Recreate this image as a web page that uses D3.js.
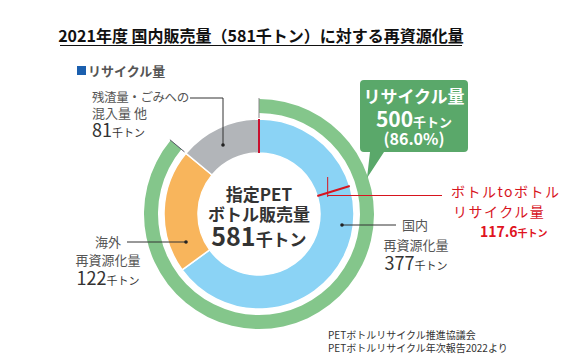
<!DOCTYPE html>
<html>
<head>
<meta charset="utf-8">
<script src="https://cdn.jsdelivr.net/npm/d3@7"></script>
<style>
  body { margin: 0; background: #fff; }
  text { font-family: "Noto Sans CJK JP", "Noto Sans", sans-serif; }
</style>
</head>
<body>
<script>
// data
var categories = ["国内再資源化量", "海外再資源化量", "残渣量・ごみへの混入量 他"];
var values = [377, 122, 81];
var totalSales = 581;
var recycleTotal = 500;
var recycleRate = "86.0%";
var bottleToBottle = 117.6;

var width = 568, height = 363;
var cx = 259, cy = 214;

var svg = d3.select("body").append("svg")
    .attr("width", width)
    .attr("height", height);

// title
svg.append("text")
    .attr("x", 261).attr("y", 42)
    .attr("text-anchor", "middle")
    .attr("font-size", 16).attr("font-weight", "bold")
    .attr("fill", "#111")
    .text("2021年度 国内販売量（" + totalSales + "千トン）に対する再資源化量");
svg.append("line")
    .attr("x1", 60).attr("x2", 462).attr("y1", 45.5).attr("y2", 45.5)
    .attr("stroke", "#111").attr("stroke-width", 1.2);

// sub heading
svg.append("rect").attr("x", 77).attr("y", 66).attr("width", 9).attr("height", 9).attr("fill", "#1b5fae");
svg.append("text")
    .attr("x", 88).attr("y", 76)
    .attr("font-size", 13).attr("font-weight", "bold").attr("fill", "#555")
    .text("リサイクル量");

var g = svg.append("g").attr("transform", "translate(" + cx + "," + cy + ")");

var colors = ["#8bd3f5", "#f8b55c", "#b2b5b9"];

var pie = d3.pie().sort(null).value(function(d) { return d; });
var arcs = pie(values);

var arc = d3.arc().innerRadius(61).outerRadius(95);

g.selectAll("path.seg")
    .data(arcs)
    .enter().append("path")
    .attr("class", "seg")
    .attr("d", arc)
    .attr("fill", function(d, i) { return colors[i]; })
    .attr("stroke", "#fff")
    .attr("stroke-width", 1.5);

// outer recycle ring
var angle = d3.scaleLinear().domain([0, totalSales]).range([0, 2 * Math.PI]);
var ringArc = d3.arc().innerRadius(101).outerRadius(115);
g.append("path")
    .attr("d", ringArc({startAngle: 0, endAngle: angle(recycleTotal)}))
    .attr("fill", "#84c68b");

// ring end markers
function radial(a, r0, r1, color, w) {
    g.append("line")
        .attr("x1", r0 * Math.sin(a)).attr("y1", -r0 * Math.cos(a))
        .attr("x2", r1 * Math.sin(a)).attr("y2", -r1 * Math.cos(a))
        .attr("stroke", color).attr("stroke-width", w);
}
radial(0, 96, 116, "#888", 1);
radial(angle(recycleTotal), 97, 116, "#556", 1);

// red markers
radial(0, 61, 95, "#c8102e", 2);
var ba = angle(bottleToBottle);
radial(ba, 61, 95, "#d7141e", 2);

var mx = cx + 75 * Math.sin(ba);
svg.append("line").attr("x1", mx - 3).attr("x2", mx - 3).attr("y1", 177).attr("y2", 197)
    .attr("stroke", "#d7141e").attr("stroke-width", 1);
svg.append("line").attr("x1", mx - 3).attr("x2", 442).attr("y1", 195.5).attr("y2", 195.5)
    .attr("stroke", "#d7141e").attr("stroke-width", 1);

svg.append("text").attr("x", 451).attr("y", 197)
    .attr("font-size", 14).attr("fill", "#d7141e").attr("letter-spacing", 1.5)
    .text("ボトルtoボトル");
svg.append("text").attr("x", 453).attr("y", 217)
    .attr("font-size", 14).attr("fill", "#d7141e").attr("letter-spacing", 1.5)
    .text("リサイクル量");
var b2b = svg.append("text").attr("x", 480).attr("y", 237)
    .attr("font-size", 14).attr("font-weight", "bold").attr("fill", "#e0141e");
b2b.append("tspan").text(bottleToBottle);
b2b.append("tspan").attr("font-size", 10).text("千トン");

// centre text
svg.append("text").attr("x", cx).attr("y", 201).attr("text-anchor", "middle")
    .attr("font-size", 17).attr("font-weight", "bold").attr("fill", "#333").text("指定PET");
svg.append("text").attr("x", cx).attr("y", 221).attr("text-anchor", "middle")
    .attr("font-size", 17).attr("font-weight", "bold").attr("fill", "#333").text("ボトル販売量");
var ct = svg.append("text").attr("x", cx).attr("y", 246).attr("text-anchor", "middle")
    .attr("font-weight", "bold").attr("fill", "#333");
ct.append("tspan").attr("font-size", 25).text(totalSales);
ct.append("tspan").attr("font-size", 17).text("千トン");

// callout box
var box = svg.append("g");
box.append("path")
    .attr("d", "M364,80 h100 a4,4 0 0 1 4,4 v64 a4,4 0 0 1 -4,4 h-80 L367,178 L370,152 h-6 a4,4 0 0 1 -4,-4 v-64 a4,4 0 0 1 4,-4 z")
    .attr("fill", "#5aa86a");
box.append("text").attr("x", 414).attr("y", 103).attr("text-anchor", "middle")
    .attr("font-size", 17).attr("font-weight", "bold").attr("fill", "#fff").text("リサイクル量");
var bt = box.append("text").attr("x", 414).attr("y", 127).attr("text-anchor", "middle")
    .attr("font-weight", "bold").attr("fill", "#fff");
bt.append("tspan").attr("font-size", 21).text(recycleTotal);
bt.append("tspan").attr("font-size", 13).text("千トン");
box.append("text").attr("x", 414).attr("y", 145).attr("text-anchor", "middle")
    .attr("font-size", 16).attr("font-weight", "bold").attr("fill", "#fff").text("(" + recycleRate + ")");

// segment labels with leader lines
function dot(x, y) {
    svg.append("circle").attr("cx", x).attr("cy", y).attr("r", 1.8).attr("fill", "#222");
}
function valueLabel(x, y, v, anchor) {
    var t = svg.append("text").attr("x", x).attr("y", y).attr("text-anchor", anchor || "start")
        .attr("fill", "#333");
    t.append("tspan").attr("font-size", 18).text(v);
    t.append("tspan").attr("font-size", 11).text("千トン");
}
var lab = { fill: "#555", size: 13 };

// residue
svg.append("text").attr("x", 92).attr("y", 102).attr("font-size", 12.5).attr("letter-spacing", -0.4)
    .attr("fill", lab.fill).text("残渣量・ごみへの");
svg.append("text").attr("x", 92).attr("y", 118).attr("font-size", lab.size).attr("fill", lab.fill).text("混入量 他");
valueLabel(92, 137, values[2]);
svg.append("polyline").attr("points", "190,98 223,98 223,145")
    .attr("fill", "none").attr("stroke", "#333").attr("stroke-width", 1);
dot(223, 145);

// overseas
svg.append("text").attr("x", 108).attr("y", 247).attr("text-anchor", "middle").attr("font-size", lab.size).attr("fill", lab.fill).text("海外");
svg.append("text").attr("x", 108).attr("y", 265).attr("text-anchor", "middle").attr("font-size", lab.size).attr("fill", lab.fill).text("再資源化量");
valueLabel(108, 285, values[1], "middle");
svg.append("line").attr("x1", 127).attr("x2", 186).attr("y1", 242).attr("y2", 242)
    .attr("stroke", "#333").attr("stroke-width", 1);
dot(186, 242);

// domestic
svg.append("text").attr("x", 415).attr("y", 230).attr("text-anchor", "middle").attr("font-size", lab.size).attr("fill", lab.fill).text("国内");
svg.append("text").attr("x", 416).attr("y", 250).attr("text-anchor", "middle").attr("font-size", lab.size).attr("fill", lab.fill).text("再資源化量");
valueLabel(416, 270, values[0], "middle");
svg.append("line").attr("x1", 342).attr("x2", 396).attr("y1", 225).attr("y2", 225)
    .attr("stroke", "#333").attr("stroke-width", 1);
dot(342, 225);

// source
svg.append("text").attr("x", 328).attr("y", 339).attr("font-size", 10).attr("fill", "#333").text("PETボトルリサイクル推進協議会");
svg.append("text").attr("x", 328).attr("y", 352).attr("font-size", 10).attr("fill", "#333").text("PETボトルリサイクル年次報告2022より");
</script>
</body>
</html>
